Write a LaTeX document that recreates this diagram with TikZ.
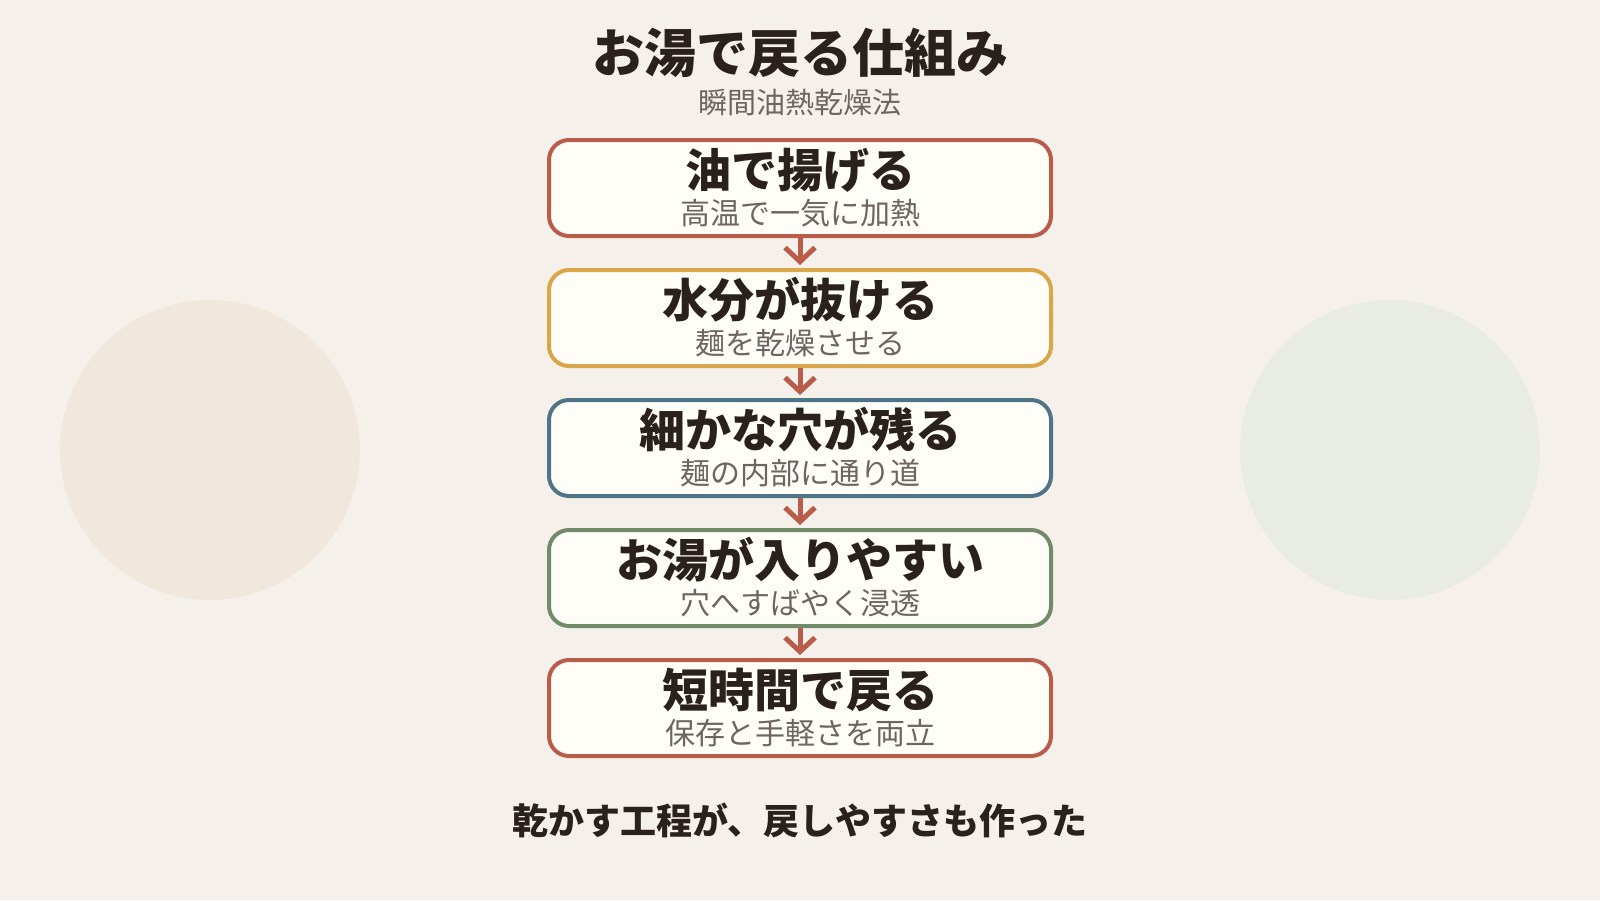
\documentclass[tikz,border=0pt]{standalone}
\usepackage{fontspec}
\setmainfont{Noto Sans CJK JP}
\usetikzlibrary{arrows.meta}
\definecolor{bg}{HTML}{F5F1EA}
\definecolor{boxfill}{HTML}{FFFDF8}
\definecolor{cred}{HTML}{B95C4A}
\definecolor{corange}{HTML}{D9A64A}
\definecolor{cblue}{HTML}{4E7488}
\definecolor{cgreen}{HTML}{718A6A}
\definecolor{darktext}{HTML}{2A211D}
\definecolor{graytext}{HTML}{6E6560}
\definecolor{circpeach}{HTML}{F1E8DD}
\definecolor{circgreen}{HTML}{E9ECE3}
\tikzset{
  stepbox/.style={draw=#1, line width=4pt, fill=boxfill, rounded corners=20pt,
    minimum width=502pt, minimum height=96pt, inner sep=0pt},
  headtext/.style={font=\bfseries\fontsize{46}{55}\selectfont, text=darktext},
  subtext/.style={font=\fontsize{30}{36}\selectfont, text=graytext},
  flow/.style={draw=cred, line width=5pt, -{Straight Barb[length=14pt,width=30pt,line width=5pt]}, shorten >=3pt},
}
\begin{document}
\begin{tikzpicture}[x=1pt,y=-1pt]
\fill[bg] (0,0) rectangle (1600,900);
\useasboundingbox (0,0) rectangle (1600,900);
\fill[circpeach] (210,450) circle (150);
\fill[circgreen] (1390,450) circle (150);

\node[font=\bfseries\fontsize{52}{62}\selectfont, text=darktext] (title) at (800,53) {お湯で戻る仕組み};
\node[font=\fontsize{29}{35}\selectfont, text=graytext] (subtitle) at (800,102) {瞬間油熱乾燥法};

\node[stepbox=cred] (b1) at (800,188) {};
\node[stepbox=corange] (b2) at (800,318) {};
\node[stepbox=cblue] (b3) at (800,448) {};
\node[stepbox=cgreen] (b4) at (800,578) {};
\node[stepbox=cred] (b5) at (800,708) {};

\node[headtext] (h1) at (800,170) {油で揚げる};
\node[subtext] (s1) at (800,213) {高温で一気に加熱};
\node[headtext] (h2) at (800,300) {水分が抜ける};
\node[subtext] (s2) at (800,343) {麺を乾燥させる};
\node[headtext] (h3) at (800,430) {細かな穴が残る};
\node[subtext] (s3) at (800,473) {麺の内部に通り道};
\node[headtext] (h4) at (800,560) {お湯が入りやすい};
\node[subtext] (s4) at (800,603) {穴へすばやく浸透};
\node[headtext] (h5) at (800,690) {短時間で戻る};
\node[subtext] (s5) at (800,733) {保存と手軽さを両立};

\draw[flow] (b1.south) -- (b2.north);
\draw[flow] (b2.south) -- (b3.north);
\draw[flow] (b3.south) -- (b4.north);
\draw[flow] (b4.south) -- (b5.north);

\node[font=\bfseries\fontsize{36}{43}\selectfont, text=darktext] (foot) at (800,820) {乾かす工程が、戻しやすさも作った};
\end{tikzpicture}
\end{document}
